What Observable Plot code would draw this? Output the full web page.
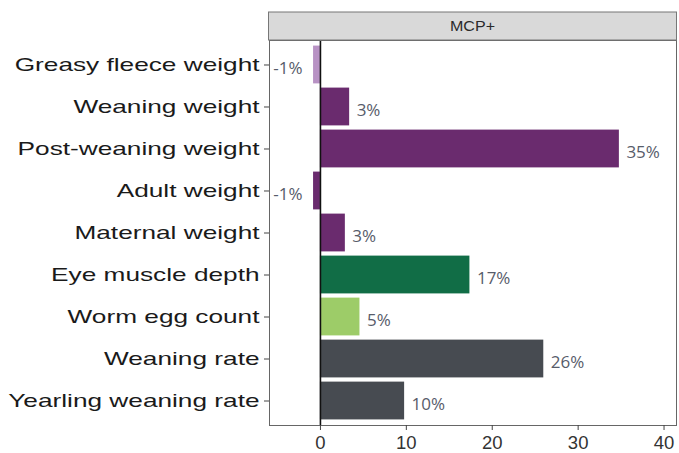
<!DOCTYPE html>
<html>
<head>
<meta charset="utf-8">
<script src="https://cdn.jsdelivr.net/npm/d3@7"></script>
<script src="https://cdn.jsdelivr.net/npm/@observablehq/plot@0.6"></script>
<style>
  html, body { margin: 0; padding: 0; background: #fff; }
  #chart { width: 679px; height: 453px; }
</style>
</head>
<body>
<div id="chart"></div>
<script>
// ---- data ----
const traits = ["Greasy fleece weight", "Weaning weight", "Post-weaning weight", "Adult weight",
  "Maternal weight", "Eye muscle depth", "Worm egg count", "Weaning rate", "Yearling weaning rate"];
const values = [-0.8, 3.4, 34.8, -0.8, 2.9, 17.4, 4.6, 26.0, 9.8];
const labels = ["-1%", "3%", "35%", "-1%", "3%", "17%", "5%", "26%", "10%"];
const groups = ["Wool", "Weight", "Weight", "Weight", "Weight", "Carcass", "Parasite", "Reproduction", "Reproduction"];
const facetTitle = "MCP+";
const xTicks = [0, 10, 20, 30, 40];

const groupDomain = ["Wool", "Weight", "Carcass", "Parasite", "Reproduction"];
const groupColors = ["#b892c4", "#6a2b6e", "#116d46", "#9dcc68", "#474b51"];

const data = traits.map((t, i) => ({trait: t, value: values[i], label: labels[i], group: groups[i]}));

const W = 679, H = 453;
const plot = Plot.plot({
  width: W,
  height: H,
  marginLeft: 269,
  marginRight: 3,
  marginTop: 40,
  marginBottom: 28,
  style: {fontFamily: "'Liberation Sans', Arial, sans-serif", background: "#fff", overflow: "visible"},
  x: {domain: [-5.93, 41.45], ticks: xTicks, label: null},
  y: {domain: traits, paddingInner: 0.1, paddingOuter: 0.133, round: false, label: null},
  color: {domain: groupDomain, range: groupColors},
  marks: [
    Plot.barX(data, {y: "trait", x: "value", fill: "group"}),
    Plot.ruleX([0], {stroke: "#111", strokeWidth: 1.6}),
    Plot.text(data.filter(d => d.value >= 0), {y: "trait", x: "value", text: "label", textAnchor: "start",
      dx: 7, dy: 4, fill: "#575c6a", fontSize: 17, fontFamily: "'Open Sans', sans-serif"}),
    Plot.text(data.filter(d => d.value < 0), {y: "trait", x: "value", text: "label", textAnchor: "end",
      dx: -11, dy: 4, fill: "#575c6a", fontSize: 17, fontFamily: "'Open Sans', sans-serif"}),
    Plot.frame({stroke: "#666", strokeWidth: 1}),
    Plot.axisX({ticks: xTicks, tickSize: 5, tickPadding: 5, fontSize: 18.5, color: "#333", label: null, stroke: "#444"}),
    Plot.axisY({tickSize: 5, tickPadding: 5, fontSize: 19, color: "#1a1a1a", label: null, stroke: "#444"})
  ]
});

document.getElementById("chart").appendChild(plot);

// y labels in the reference are horizontally wide: stretch glyphs
const stretch = 1.38;
d3.select(plot).selectAll("[aria-label='y-axis tick label'] text").each(function () {
  const len = this.getComputedTextLength();
  this.setAttribute("textLength", len * stretch);
  this.setAttribute("lengthAdjust", "spacingAndGlyphs");
});

// facet strip above the panel
const svg = d3.select(plot);
const xr = plot.scale("x").range;
const stripTop = 12, stripBottom = 40;
const g = svg.append("g");
g.append("rect")
  .attr("x", xr[0] - 0.5).attr("y", stripTop)
  .attr("width", xr[1] - xr[0] + 1).attr("height", stripBottom - stripTop)
  .attr("fill", "#d9d9d9").attr("stroke", "#777").attr("stroke-width", 1);
const st = g.append("text")
  .attr("x", (xr[0] + xr[1]) / 2).attr("y", (stripTop + stripBottom) / 2)
  .attr("text-anchor", "middle").attr("dy", "0.35em")
  .attr("font-size", 14).attr("fill", "#2a2a2a")
  .attr("font-family", "'Liberation Sans', Arial, sans-serif")
  .text(facetTitle);
st.attr("textLength", 45).attr("lengthAdjust", "spacingAndGlyphs");
</script>
</body>
</html>
